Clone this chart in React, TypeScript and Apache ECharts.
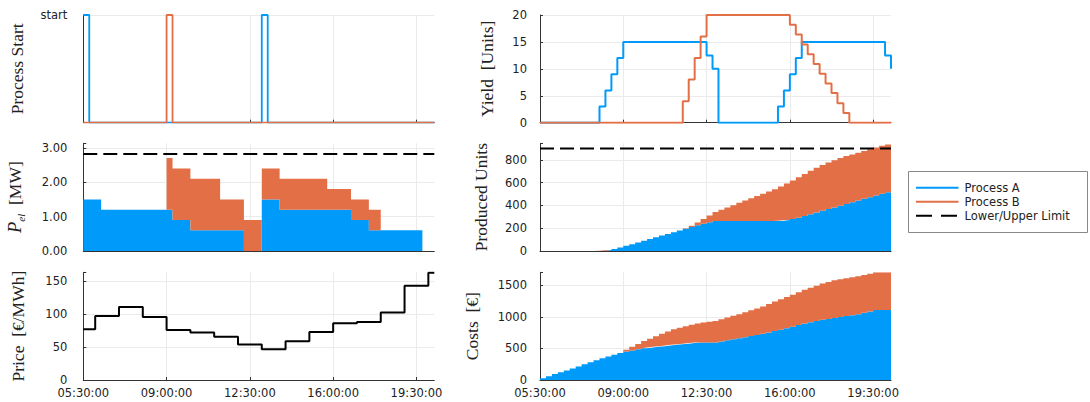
import React, { useEffect, useRef } from 'react';
import * as echarts from 'echarts';

const TIMES = [
  '05:30:00', '05:45:00', '06:00:00', '06:15:00', '06:30:00', '06:45:00', '07:00:00', '07:15:00', '07:30:00', '07:45:00',
  '08:00:00', '08:15:00', '08:30:00', '08:45:00', '09:00:00', '09:15:00', '09:30:00', '09:45:00', '10:00:00', '10:15:00',
  '10:30:00', '10:45:00', '11:00:00', '11:15:00', '11:30:00', '11:45:00', '12:00:00', '12:15:00', '12:30:00', '12:45:00',
  '13:00:00', '13:15:00', '13:30:00', '13:45:00', '14:00:00', '14:15:00', '14:30:00', '14:45:00', '15:00:00', '15:15:00',
  '15:30:00', '15:45:00', '16:00:00', '16:15:00', '16:30:00', '16:45:00', '17:00:00', '17:15:00', '17:30:00', '17:45:00',
  '18:00:00', '18:15:00', '18:30:00', '18:45:00', '19:00:00', '19:15:00', '19:30:00', '19:45:00', '20:00:00', '20:15:00',
];

const START_A = [
  1, 0, 0, 0, 0, 0, 0, 0, 0, 0, 0, 0, 0, 0, 0, 0, 0, 0, 0, 0,
  0, 0, 0, 0, 0, 0, 0, 0, 0, 0, 1, 0, 0, 0, 0, 0, 0, 0, 0, 0,
  0, 0, 0, 0, 0, 0, 0, 0, 0, 0, 0, 0, 0, 0, 0, 0, 0, 0, 0, 0,
];
const START_B = [
  0, 0, 0, 0, 0, 0, 0, 0, 0, 0, 0, 0, 0, 0, 1, 0, 0, 0, 0, 0,
  0, 0, 0, 0, 0, 0, 0, 0, 0, 0, 0, 0, 0, 0, 0, 0, 0, 0, 0, 0,
  0, 0, 0, 0, 0, 0, 0, 0, 0, 0, 0, 0, 0, 0, 0, 0, 0, 0, 0, 0,
];

const YIELD_A = [
  0, 0, 0, 0, 0, 0, 0, 0, 0, 0, 3, 6, 9, 12, 15, 15, 15, 15, 15, 15,
  15, 15, 15, 15, 15, 15, 15, 15, 12.5, 10, 0, 0, 0, 0, 0, 0, 0, 0, 0, 0,
  3, 6, 9, 12, 15, 15, 15, 15, 15, 15, 15, 15, 15, 15, 15, 15, 15, 15, 12.5, 10,
];
const YIELD_B = [
  0, 0, 0, 0, 0, 0, 0, 0, 0, 0, 0, 0, 0, 0, 0, 0, 0, 0, 0, 0,
  0, 0, 0, 0, 4, 8, 12, 16, 20, 20, 20, 20, 20, 20, 20, 20, 20, 20, 20, 20,
  20, 20, 18.2, 16.4, 14.5, 12.7, 10.9, 9.1, 7.3, 5.5, 3.6, 1.8, 0, 0, 0, 0, 0, 0, 0, 0,
];

const PEL_A = [
  1.5, 1.5, 1.5, 1.2, 1.2, 1.2, 1.2, 1.2, 1.2, 1.2, 1.2, 1.2, 1.2, 1.2, 1.2, 0.9, 0.9, 0.9, 0.6, 0.6,
  0.6, 0.6, 0.6, 0.6, 0.6, 0.6, 0.6, 0, 0, 0, 1.5, 1.5, 1.5, 1.2, 1.2, 1.2, 1.2, 1.2, 1.2, 1.2,
  1.2, 1.2, 1.2, 1.2, 1.2, 0.9, 0.9, 0.9, 0.6, 0.6, 0.6, 0.6, 0.6, 0.6, 0.6, 0.6, 0.6, 0, 0, 0,
];
const PEL_B = [
  0, 0, 0, 0, 0, 0, 0, 0, 0, 0, 0, 0, 0, 0, 1.5, 1.5, 1.5, 1.5, 1.5, 1.5,
  1.5, 1.5, 1.5, 0.9, 0.9, 0.9, 0.9, 0.9, 0.9, 0.9, 0.9, 0.9, 0.9, 0.9, 0.9, 0.9, 0.9, 0.9, 0.9, 0.9,
  0.9, 0.6, 0.6, 0.6, 0.6, 0.6, 0.6, 0.6, 0.6, 0.6, 0, 0, 0, 0, 0, 0, 0, 0, 0, 0,
];
const PEL_LIMIT = 2.82;

const PRICE = [
  77, 77, 97, 97, 97, 97, 111, 111, 111, 111, 95.5, 95.5, 95.5, 95.5, 76, 76, 76, 76, 72, 72,
  72, 72, 65.5, 65.5, 65.5, 65.5, 54, 54, 54, 54, 46.5, 46.5, 46.5, 46.5, 59, 59, 59, 59, 73, 73,
  73, 73, 86, 86, 86, 86, 88, 88, 88, 88, 102.5, 102.5, 102.5, 102.5, 143, 143, 143, 143, 163, 163,
];

const PROD_A = [
  0, 0, 0, 0, 0, 0, 0, 0, 0, 0, 3, 9, 18, 30, 45, 60, 75, 90, 105, 120,
  135, 150, 165, 180, 195, 210, 225, 240, 252.5, 262.5, 262.5, 262.5, 262.5, 262.5, 262.5, 262.5, 262.5, 262.5, 262.5, 262.5,
  265.5, 271.5, 280.5, 292.5, 307.5, 322.5, 337.5, 352.5, 367.5, 382.5, 397.5, 412.5, 427.5, 442.5, 457.5, 472.5, 487.5, 502.5, 515, 525,
];
const PROD_B = [
  0, 0, 0, 0, 0, 0, 0, 0, 0, 0, 0, 0, 0, 0, 0, 0, 0, 0, 0, 0,
  0, 0, 0, 0, 4, 12, 24, 40, 60, 80, 100, 120, 140, 160, 180, 200, 220, 240, 260, 280,
  300, 320, 338.2, 354.6, 369.1, 381.8, 392.7, 401.8, 409.1, 414.6, 418.2, 420, 420, 420, 420, 420, 420, 420, 420, 420,
];
const UNITS_LIMIT = 900;

const COST_A = [
  28.9, 57.8, 94.1, 123.2, 152.3, 181.4, 214.7, 248.0, 281.3, 314.6, 343.3, 371.9, 400.6, 429.2, 452.0, 469.1, 486.2, 503.3, 514.1, 524.9,
  535.7, 546.5, 556.4, 566.2, 576.0, 585.8, 593.9, 593.9, 593.9, 593.9, 611.4, 628.8, 646.2, 660.2, 677.9, 695.6, 713.3, 731.0, 752.9, 774.8,
  796.7, 818.6, 844.4, 870.2, 896.0, 915.3, 935.1, 954.9, 968.1, 981.3, 996.7, 1012.1, 1027.4, 1042.8, 1064.3, 1085.7, 1107.2, 1107.2, 1107.2, 1107.2,
];
const COST_B = [
  0, 0, 0, 0, 0, 0, 0, 0, 0, 0, 0, 0, 0, 0, 28.5, 57.0, 85.5, 114.0, 141.0, 168.0,
  195.0, 222.0, 246.6, 261.3, 276.0, 290.8, 302.9, 315.1, 327.2, 339.4, 349.8, 360.3, 370.8, 381.2, 394.5, 407.8, 421.1, 434.3, 450.8, 467.2,
  483.6, 494.6, 507.5, 520.4, 533.3, 546.2, 559.4, 572.6, 585.8, 599.0, 599.0, 599.0, 599.0, 599.0, 599.0, 599.0, 599.0, 599.0, 599.0, 599.0,
];

const LEGEND_NAMES = ['Process A', 'Process B', 'Lower/Upper Limit'];

const BLUE = '#009AFA';
const ORANGE = '#E36F47';
const FONT = "'DejaVu Sans', sans-serif";
const SERIF = "'Liberation Serif', 'DejaVu Serif', serif";
const AXIS_COLOR = '#333';
const GRID_COLOR = '#ebebeb';
const LIMIT_DASH = [14, 6];

const LEFT_X = 83.3;
const RIGHT_X = 540;
const PLOT_W = 351;
const PLOT_H = 107.7;
const ROW_TOPS = [15, 143.3, 272.3];

const grids = [0, 1, 2, 3, 4, 5].map((g) => ({
  left: g % 2 === 0 ? LEFT_X : RIGHT_X,
  top: ROW_TOPS[Math.floor(g / 2)],
  width: PLOT_W,
  height: PLOT_H,
  containLabel: false,
  outerBoundsMode: 'none',
}));

const xAxes = grids.map((_, g) => ({
  type: 'category',
  gridIndex: g,
  data: TIMES,
  boundaryGap: false,
  axisLine: { show: true, onZero: false, lineStyle: { color: AXIS_COLOR, width: 1 } },
  axisTick: { show: true, inside: true, length: 3, interval: 13, lineStyle: { color: AXIS_COLOR } },
  splitLine: { show: true, interval: 13, lineStyle: { color: GRID_COLOR, width: 1 } },
  axisLabel: { show: g >= 4, interval: 13, margin: 7, fontSize: 11.5, fontFamily: FONT, color: '#222' },
}));

function yAxis(
  g: number,
  max: number,
  interval: number,
  name: string,
  nameGap: number,
  margin: number,
  fmt: (v: number) => string,
  showMax: boolean,
  rich?: any,
) {
  return {
    type: 'value',
    gridIndex: g,
    min: 0,
    max,
    interval,
    name,
    nameLocation: 'middle',
    nameRotate: 90,
    nameGap,
    nameTextStyle: { fontFamily: SERIF, fontSize: 17.5, color: '#222', rich },
    axisLine: { show: true, lineStyle: { color: AXIS_COLOR, width: 1 } },
    axisTick: { show: true, inside: true, length: 3, lineStyle: { color: AXIS_COLOR } },
    splitLine: { show: true, showMaxLine: showMax, lineStyle: { color: GRID_COLOR, width: 1 } },
    axisLabel: {
      margin,
      fontSize: 11.5,
      fontFamily: FONT,
      color: '#222',
      formatter: (v: number) => {
        const r = v / interval;
        if (Math.abs(r - Math.round(r)) > 1e-6) return '';
        return fmt(v);
      },
    },
  };
}

const plain = (v: number) => String(v);

const yAxes = [
  yAxis(0, 1, 1, 'Process Start', 57, 16, (v) => (v === 1 ? 'start' : ''), true),
  yAxis(1, 20, 5, 'Yield  [Units]', 44, 13, plain, true),
  yAxis(2, 3.13, 1, '{i|P}{s|el}  [MW]', 57, 16, (v) => v.toFixed(2), false, {
    i: { fontFamily: SERIF, fontStyle: 'italic', fontSize: 18.5, lineHeight: 22, color: '#222' },
    s: { fontFamily: SERIF, fontStyle: 'italic', fontSize: 11, lineHeight: 11, verticalAlign: 'bottom', color: '#222' },
  }),
  yAxis(3, 945, 200, 'Produced Units', 50.5, 13, plain, false),
  yAxis(4, 163.5, 50, 'Price  [€/MWh]', 56, 16, plain, false),
  yAxis(5, 1706, 500, 'Costs  [€]', 59, 13, plain, false),
];

function stepLine(name: string, g: number, data: number[], color: string, width: number) {
  return {
    type: 'line',
    name,
    xAxisIndex: g,
    yAxisIndex: g,
    data,
    step: 'end',
    symbol: 'none',
    showSymbol: false,
    color,
    lineStyle: { color, width },
    emphasis: { disabled: true },
    z: 2,
  };
}

function stepArea(name: string, g: number, data: number[], color: string, stack: string) {
  return {
    type: 'line',
    name,
    xAxisIndex: g,
    yAxisIndex: g,
    data,
    step: 'end',
    stack,
    symbol: 'none',
    showSymbol: false,
    color,
    lineStyle: { width: 0, color },
    areaStyle: { color, opacity: 1 },
    emphasis: { disabled: true },
    z: 2,
  };
}

function limitLine(g: number, value: number) {
  return {
    type: 'line',
    name: LEGEND_NAMES[2],
    xAxisIndex: g,
    yAxisIndex: g,
    data: [
      [TIMES[0], value],
      [TIMES[TIMES.length - 1], value],
    ],
    symbol: 'none',
    showSymbol: false,
    color: '#000',
    lineStyle: { color: '#000', width: 2, type: LIMIT_DASH },
    emphasis: { disabled: true },
    z: 4,
  };
}

const series = [
  stepLine(LEGEND_NAMES[0], 0, START_A, BLUE, 1.8),
  stepLine(LEGEND_NAMES[1], 0, START_B, ORANGE, 1.8),
  stepLine(LEGEND_NAMES[0], 1, YIELD_A, BLUE, 2),
  stepLine(LEGEND_NAMES[1], 1, YIELD_B, ORANGE, 2),
  stepArea(LEGEND_NAMES[0], 2, PEL_A, BLUE, 'pel'),
  stepArea(LEGEND_NAMES[1], 2, PEL_B, ORANGE, 'pel'),
  limitLine(2, PEL_LIMIT),
  stepArea(LEGEND_NAMES[0], 3, PROD_A, BLUE, 'prod'),
  stepArea(LEGEND_NAMES[1], 3, PROD_B, ORANGE, 'prod'),
  limitLine(3, UNITS_LIMIT),
  stepLine('Price', 4, PRICE, '#000', 2),
  stepArea(LEGEND_NAMES[0], 5, COST_A, BLUE, 'cost'),
  stepArea(LEGEND_NAMES[1], 5, COST_B, ORANGE, 'cost'),
];

// Legend box drawn as graphic (line samples without markers, dashed sample for limits)
const LEG_X = 908.5;
const LEG_Y = 171.5;
const LEG_W = 179;
const LEG_H = 61;
const LEG_ROW0 = 187.7;
const LEG_ROW_GAP = 14;
const legendStyles = [
  { stroke: BLUE, lineWidth: 2 },
  { stroke: ORANGE, lineWidth: 2 },
  { stroke: '#000', lineWidth: 2, lineDash: [16, 9] },
];

const legendGraphic = {
  type: 'group',
  children: [
    {
      type: 'rect',
      shape: { x: LEG_X, y: LEG_Y, width: LEG_W, height: LEG_H },
      style: { fill: '#fff', stroke: '#888', lineWidth: 1 },
    },
    ...LEGEND_NAMES.flatMap((name, i) => {
      const y = LEG_ROW0 + i * LEG_ROW_GAP;
      return [
        {
          type: 'line',
          shape: { x1: LEG_X + 7.5, y1: y, x2: LEG_X + 50, y2: y },
          style: legendStyles[i],
        },
        {
          type: 'text',
          x: LEG_X + 56,
          y,
          style: {
            text: name,
            fontFamily: FONT,
            fontSize: 11.5,
            fill: '#222',
            textVerticalAlign: 'middle',
            verticalAlign: 'middle',
          },
        },
      ];
    }),
  ],
};

const option = {
  animation: false,
  backgroundColor: '#ffffff',
  grid: grids,
  xAxis: xAxes,
  yAxis: yAxes,
  graphic: [legendGraphic],
  series,
};

export default function App() {
  const ref = useRef<HTMLDivElement>(null);
  useEffect(() => {
    if (!ref.current) return;
    const chart = echarts.init(ref.current, null, { renderer: 'svg' });
    chart.setOption(option as any);
    return () => chart.dispose();
  }, []);
  return (
    <div
      ref={ref}
      style={{ position: 'fixed', left: 0, top: 0, width: 1090, height: 402, background: '#fff' }}
    />
  );
}
